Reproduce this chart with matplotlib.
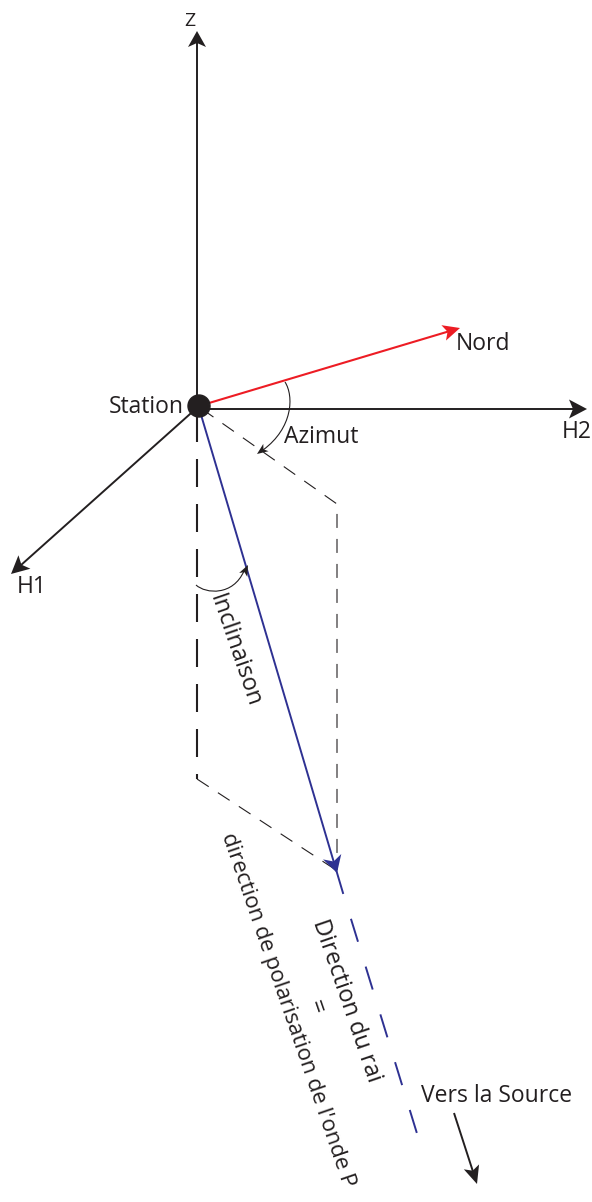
import numpy as np
import matplotlib
matplotlib.use("Agg")
import matplotlib.pyplot as plt
from matplotlib.patches import Polygon, Circle, PathPatch
from matplotlib.path import Path

# ---------------- diagram data (pixel coordinates, y downward) ----------------
station = (199, 406)
station_radius = 11
z_base = (197, 406)
z_tip = (197, 31)
h2_base = (199, 409)
h2_tip = (587, 409)
h1_tip = (11, 574)
nord_tip = (460, 328)
ray_start = (199, 408)
ray_end = (419, 1140)
ray_solid_end = (343, 893)
ray_arrow_tip = (337, 873)
src_arrow = [(454, 1113), (477, 1184)]
vert_dash = [(197, 414), (197, 779)]
para_top = [(202, 409), (337, 504), (337, 870)]
para_bottom = [(197, 779), (336, 870)]
azimut_arc = [(285, 382), (294, 396), (293, 428), (263, 450)]
azimut_tip = (257, 454)
incl_arc = [(196, 585), (206, 594), (233, 596), (244, 571)]
incl_tip = (248, 565)

labels = {
    "Z": (190, 26),
    "H2": (562, 438),
    "H1": (17, 593),
    "Nord": (456, 350),
    "Station": (109, 413),
    "Azimut": (284, 443),
    "Vers la Source": (421, 1102),
}
text_angle = -71.0

BLACK = "#231F20"
RED = "#ED1C24"
BLUE = "#2E3192"

plt.rcParams["font.family"] = ["Open Sans", "DejaVu Sans"]
plt.rcParams["lines.scale_dashes"] = False

fig = plt.figure(figsize=(5.92, 12.02), dpi=100)
ax = fig.add_axes([0, 0, 1, 1])
ax.set_xlim(0, 592)
ax.set_ylim(1202, 0)
ax.axis("off")

PX = 0.72  # points per pixel at 100 dpi


def arrowhead(tip, frm, length, width, notch, color):
    tip = np.asarray(tip, float)
    d = tip - np.asarray(frm, float)
    d /= np.hypot(*d)
    n = np.array([-d[1], d[0]])
    back = tip - d * length
    poly = [tip, back + n * width / 2, tip - d * (length - notch), back - n * width / 2]
    ax.add_patch(Polygon(poly, closed=True, facecolor=color, edgecolor="none", zorder=5))
    return tip - d * (length - notch - 1)


def arrow_line(start, tip, color, lw, length=17, width=17, notch=4):
    end = arrowhead(tip, start, length, width, notch, color)
    ax.plot([start[0], end[0]], [start[1], end[1]], color=color, lw=lw,
            solid_capstyle="butt", zorder=4)


# axes
arrow_line(z_base, z_tip, BLACK, 1.4, 16, 18, 4)
arrow_line(h2_base, h2_tip, BLACK, 1.4, 18, 19, 4)
arrow_line(station, h1_tip, BLACK, 1.4, 18, 18, 4)
arrow_line(station, nord_tip, RED, 1.5, 17, 16, 4)

# dashed construction lines
ax.plot(*zip(*vert_dash), color=BLACK, lw=1.5, dashes=(28 * PX, 17 * PX), zorder=3)
ax.plot(*zip(*para_top), color=BLACK, lw=0.8, dashes=(14 * PX, 11 * PX), zorder=3)
ax.plot(*zip(*para_bottom), color=BLACK, lw=0.8, dashes=(14 * PX, 11 * PX), zorder=3)

# ray
ax.plot([ray_start[0], ray_solid_end[0]], [ray_start[1], ray_solid_end[1]],
        color=BLUE, lw=1.4, zorder=4)
ray_dir = np.array(ray_end, float) - np.array(ray_solid_end, float)
ray_dir /= np.hypot(*ray_dir)
dash_start = np.array(ray_solid_end, float) + ray_dir * 27
ax.plot([dash_start[0], ray_end[0]], [dash_start[1], ray_end[1]], color=BLUE, lw=1.4,
        dashes=(24 * PX, 26 * PX), zorder=4)
arrowhead(ray_arrow_tip, ray_start, 17, 19, 5, BLUE)

# arrow to the source
arrow_line(src_arrow[0], src_arrow[1], BLACK, 1.4, 18, 16, 4)

# station dot
ax.add_patch(Circle(station, station_radius, color=BLACK, zorder=6))

# arcs
codes = [Path.MOVETO, Path.CURVE4, Path.CURVE4, Path.CURVE4]
ax.add_patch(PathPatch(Path(azimut_arc, codes), fill=False, edgecolor=BLACK, lw=0.8, zorder=4))
arrowhead(azimut_tip, azimut_arc[2], 11, 9, 3, BLACK)
ax.add_patch(PathPatch(Path(incl_arc, codes), fill=False, edgecolor=BLACK, lw=0.8, zorder=4))
arrowhead(incl_tip, incl_arc[2], 11, 9, 3, BLACK)

# labels
FS = 16.5
for txt, (x, y) in labels.items():
    size = 14 if txt == "Z" else FS
    ha = "center" if txt == "Z" else "left"
    ax.text(x, y, txt, fontsize=size, color=BLACK, ha=ha, va="baseline", zorder=7)

rot_texts = [
    ("Inclinaison", (235, 651), "center", 17),
    ("Direction du rai", (346, 1001), "center", 17),
    ("=", (316, 1007), "center", 17),
    ("direction de polarisation de l'onde P", (227, 834), "left", 16),
]
for txt, (x, y), ha, fs in rot_texts:
    ax.text(x, y, txt, fontsize=fs, color=BLACK, rotation=text_angle, rotation_mode="anchor",
            ha=ha, va="center", zorder=7)

fig.savefig("out.png", dpi=100)
